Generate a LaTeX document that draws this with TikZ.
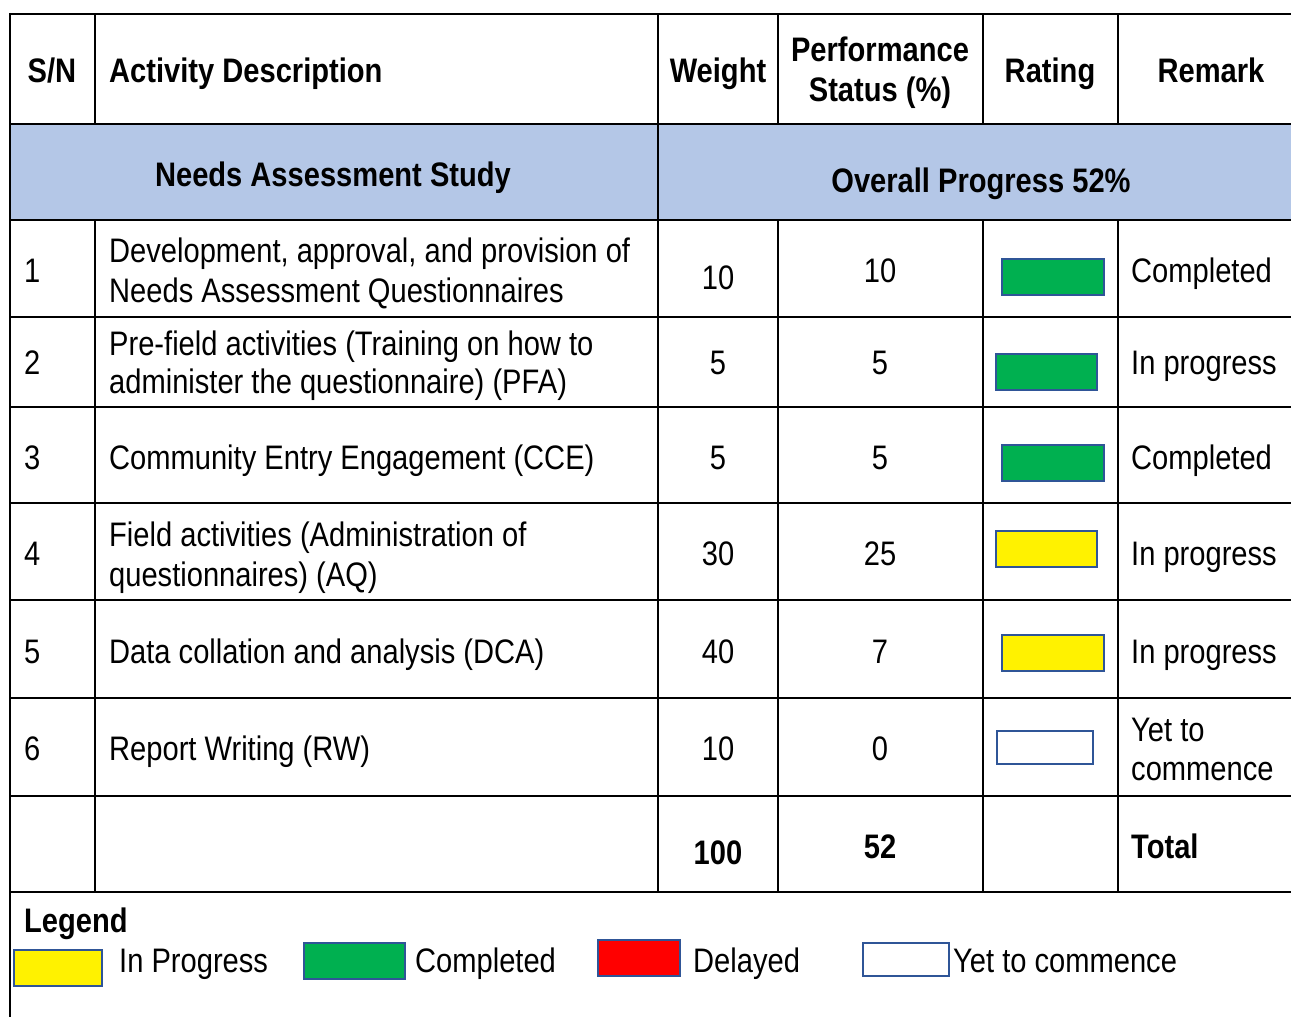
\documentclass[tikz,border=0pt]{standalone}
\usepackage{fontspec}
\setmainfont[FakeStretch=0.856]{Liberation Sans}
\definecolor{bandblue}{HTML}{B4C7E7}
\definecolor{okgreen}{HTML}{00B050}
\definecolor{boxedge}{HTML}{2F5597}
\begin{document}
\begin{tikzpicture}[x=1pt,y=-1pt,
  grid/.style={line width=2.4pt,black},
  txt/.style={inner sep=0pt,font=\fontsize{34}{40}\selectfont},
  btxt/.style={inner sep=0pt,font=\fontsize{34}{40}\selectfont\bfseries},
  lt/.style={txt,anchor=base west},
  ct/.style={txt,anchor=base},
  rbox/.style={draw=boxedge,line width=2pt}]
\useasboundingbox (0,0) rectangle (1291,1017);
\fill[white] (0,0) rectangle (1291,1017);
% blue band
\fill[bandblue] (10,124) rectangle (1291,220);
% grid lines
\foreach \yy in {14,124,220,317,407,503,600,698,796,892}
  \draw[grid] (10,\yy) -- (1291,\yy);
\draw[grid] (10,12.8) -- (10,1017);
\draw[grid] (658,14) -- (658,892);
\foreach \xx in {95,778,983,1118}{
  \draw[grid] (\xx,14) -- (\xx,124);
  \draw[grid] (\xx,220) -- (\xx,892);
}
% header
\node[btxt,anchor=base] (hsn) at (52,82) {S/N};
\node[btxt,anchor=base west] (hact) at (109,82) {Activity Description};
\node[btxt,anchor=base] (hw) at (718,82) {Weight};
\node[btxt,anchor=base] (hp1) at (880,61) {Performance};
\node[btxt,anchor=base] (hp2) at (880,101) {Status (\%)};
\node[btxt,anchor=base] (hr) at (1050,82) {Rating};
\node[btxt,anchor=base] (hrm) at (1211,82) {Remark};
% band
\node[btxt,anchor=base] (bn) at (333,186) {Needs Assessment Study};
\node[btxt,anchor=base] (bo) at (981,192) {Overall Progress 52\%};
% row 1
\node[lt] (s1) at (24,282) {1};
\node[lt] (d1a) at (109,262) {Development, approval, and provision of};
\node[lt] (d1b) at (109,302) {Needs Assessment Questionnaires};
\node[ct] (w1) at (718,289) {10};
\node[ct] (p1) at (880,282) {10};
\draw[rbox,fill=okgreen] (1002,259) rectangle (1104,295);
\node[lt] (r1) at (1131,282) {Completed};
% row 2
\node[lt] (s2) at (24,374) {2};
\node[lt] (d2a) at (109,355) {Pre-field activities (Training on how to};
\node[lt] (d2b) at (109,393) {administer the questionnaire) (PFA)};
\node[ct] (w2) at (718,374) {5};
\node[ct] (p2) at (880,374) {5};
\draw[rbox,fill=okgreen] (996,354) rectangle (1097,390);
\node[lt] (r2) at (1131,374) {In progress};
% row 3
\node[lt] (s3) at (24,469) {3};
\node[lt] (d3) at (109,469) {Community Entry Engagement (CCE)};
\node[ct] (w3) at (718,469) {5};
\node[ct] (p3) at (880,469) {5};
\draw[rbox,fill=okgreen] (1002,445) rectangle (1104,481);
\node[lt] (r3) at (1131,469) {Completed};
% row 4
\node[lt] (s4) at (24,565) {4};
\node[lt] (d4a) at (109,546) {Field activities (Administration of};
\node[lt] (d4b) at (109,586) {questionnaires) (AQ)};
\node[ct] (w4) at (718,565) {30};
\node[ct] (p4) at (880,565) {25};
\draw[rbox,fill=yellow] (996,531) rectangle (1097,567);
\node[lt] (r4) at (1131,565) {In progress};
% row 5
\node[lt] (s5) at (24,663) {5};
\node[lt] (d5) at (109,663) {Data collation and analysis (DCA)};
\node[ct] (w5) at (718,663) {40};
\node[ct] (p5) at (880,663) {7};
\draw[rbox,fill=yellow] (1002,635) rectangle (1104,671);
\node[lt] (r5) at (1131,663) {In progress};
% row 6
\node[lt] (s6) at (24,760) {6};
\node[lt] (d6) at (109,760) {Report Writing (RW)};
\node[ct] (w6) at (718,760) {10};
\node[ct] (p6) at (880,760) {0};
\draw[rbox,fill=white] (997,731) rectangle (1093,764);
\node[lt] (r6a) at (1131,741) {Yet to};
\node[lt] (r6b) at (1131,780) {commence};
% total row
\node[btxt,anchor=base] (wt) at (718,864) {100};
\node[btxt,anchor=base] (pt) at (880,858) {52};
\node[btxt,anchor=base west] (tt) at (1131,858) {Total};
% legend
\node[btxt,anchor=base west] (lg) at (24,932) {Legend};
\draw[rbox,fill=yellow] (14,950) rectangle (102,986);
\node[lt] (l1) at (119,972) {In Progress};
\draw[rbox,fill=okgreen] (304,943) rectangle (405,979);
\node[lt] (l2) at (415,972) {Completed};
\draw[rbox,fill=red] (598,940) rectangle (680,976);
\node[lt] (l3) at (693,972) {Delayed};
\draw[rbox,fill=white] (863,943) rectangle (949,976);
\node[lt] (l4) at (953,972) {Yet to commence};
\end{tikzpicture}
\end{document}
